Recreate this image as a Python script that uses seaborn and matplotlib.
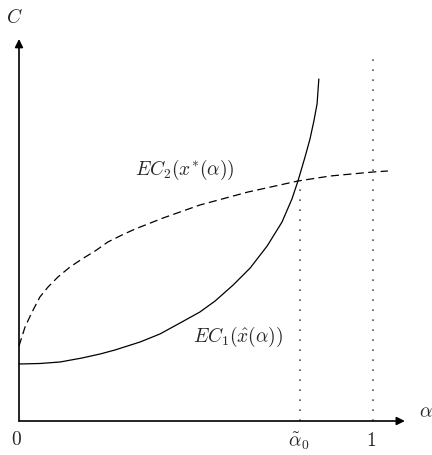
import matplotlib
matplotlib.use("Agg")
import matplotlib.pyplot as plt
import seaborn as sns
import pandas as pd

sns.set_style("white")
plt.rcParams["mathtext.fontset"] = "cm"

# Expected cost of the robust solution, EC1(x_hat(alpha))
alpha_ec1 = [0.0, 0.059, 0.116, 0.178, 0.229, 0.271, 0.342, 0.398, 0.460,
             0.511, 0.554, 0.605, 0.653, 0.701, 0.743, 0.771, 0.788, 0.808,
             0.822, 0.833, 0.842, 0.847]
cost_ec1 = [0.57, 0.575, 0.59, 0.63, 0.67, 0.71, 0.79, 0.87, 0.99,
            1.09, 1.20, 1.36, 1.53, 1.75, 1.99, 2.22, 2.40, 2.64,
            2.82, 3.00, 3.17, 3.42]

# Expected cost of the nominal solution, EC2(x*(alpha))
alpha_ec2 = [0.0, 0.017, 0.037, 0.059, 0.082, 0.110, 0.144, 0.178, 0.215,
             0.251, 0.291, 0.328, 0.364, 0.407, 0.511, 0.647, 0.788, 0.879,
             1.0, 1.042]
cost_ec2 = [0.75, 0.94, 1.09, 1.24, 1.34, 1.44, 1.54, 1.62, 1.70,
            1.79, 1.86, 1.92, 1.97, 2.03, 2.16, 2.29, 2.40, 2.45,
            2.49, 2.50]

alpha_marks = [0.794, 1.0]
alpha_labels = [r"$\tilde{\alpha}_0$", r"$1$"]
mark_tops = [2.40, 3.69]

ec1 = pd.DataFrame({"alpha": alpha_ec1, "C": cost_ec1})
ec2 = pd.DataFrame({"alpha": alpha_ec2, "C": cost_ec2})

fig = plt.figure(figsize=(4.32, 4.56), dpi=100)
ax = fig.add_axes([0, 0, 1, 1])
ax.set_xlim(-19 / 354, 413 / 354)
ax.set_ylim(-0.34, 4.22)
ax.axis("off")

sns.lineplot(data=ec1, x="alpha", y="C", ax=ax, color="black", lw=0.9,
             sort=False, estimator=None)
sns.lineplot(data=ec2, x="alpha", y="C", ax=ax, color="black", lw=0.9,
             sort=False, estimator=None)
ax.lines[-1].set_dashes([6.5, 3.5])

for a, top in zip(alpha_marks, mark_tops):
    ax.plot([a, a], [0, top], color="#555555", lw=1.2, linestyle=(0, (1, 5)))

# axes with arrow heads
arrow = dict(arrowstyle="-|>", lw=1.2, color="black", mutation_scale=12,
             shrinkA=0, shrinkB=0)
ax.annotate("", xy=(1.09, 0), xytext=(0, 0), arrowprops=arrow)
ax.annotate("", xy=(0, 3.82), xytext=(0, 0), arrowprops=arrow)

fs = 14
ax.text(-0.014, 4.04, r"$C$", fontsize=fs, ha="center", va="center")
ax.text(1.15, 0.10, r"$\alpha$", fontsize=fs, ha="center", va="center")
ax.text(-0.008, -0.18, r"$0$", fontsize=fs, ha="center", va="center")
for a, lab in zip(alpha_marks, alpha_labels):
    ax.text(a - 0.005, -0.19, lab, fontsize=fs, ha="center", va="center")
ax.text(0.469, 2.52, r"$EC_2(x^{*}(\alpha))$", fontsize=fs, ha="center", va="center")
ax.text(0.619, 0.85, r"$EC_1(\hat{x}(\alpha))$", fontsize=fs, ha="center", va="center")

fig.savefig("out.png", dpi=100)
